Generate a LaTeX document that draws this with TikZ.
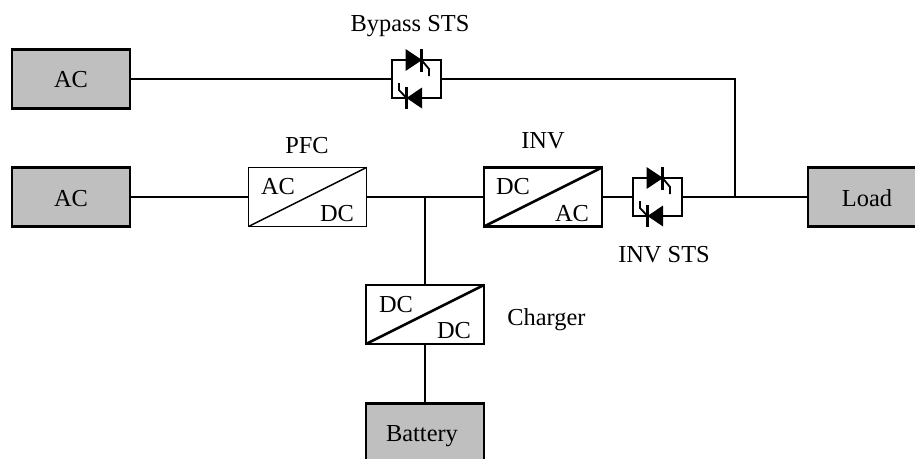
\documentclass[tikz,border=0pt]{standalone}
\usepackage{fontspec}
\setmainfont{Liberation Serif}
\begin{document}
\begin{tikzpicture}[x=1pt,y=-1pt,
  source/.style={draw=black,fill=black!25,line width=2.6pt,minimum width=118pt,minimum height=59pt,inner sep=0pt,outer sep=0pt},
  conv/.style={draw=black,fill=white,line width=2.6pt,minimum width=118pt,minimum height=59pt,inner sep=0pt,outer sep=0pt},
  thinconv/.style={conv,line width=1.5pt},
  stsbox/.style={draw=black,line width=2.4pt,minimum width=49pt,minimum height=38pt,inner sep=0pt,outer sep=0pt},
  lbl/.style={inner sep=0pt,anchor=base,font=\fontsize{24.4pt}{26pt}\selectfont},
  heavy/.style={line width=2.6pt},
  light/.style={line width=1.5pt}]
\useasboundingbox (0,0) rectangle (915,458);
\clip (0,0) rectangle (915,458);
\newcommand{\thyristors}[2]{%
  \begin{scope}[shift={(#1,#2)}]
    \fill (13.5,-11) -- (30,0) -- (13.5,11) -- cycle;
    \draw[heavy] (29.5,-11) -- (29.5,12);
    \draw[line width=1.8pt] (29.5,0) -- (37,9) -- (37,16);
    \fill (30,27.5) -- (14.5,38) -- (30,48.5) -- cycle;
    \draw[heavy] (14.5,27) -- (14.5,48.5);
    \draw[line width=1.8pt] (14.5,38) -- (7,30) -- (7,23);
  \end{scope}}
% boxes
\node[source] (ac1) at (71,79) {};
\node[source] (ac2) at (71,197) {};
\node[source] (load) at (867,197) {};
\node[source] (battery) at (425,433) {};
\node[thinconv] (pfc) at (307.5,197) {};
\node[conv] (inv) at (543,197) {};
\node[conv] (charger) at (425,314.5) {};
\node[stsbox] (bypass) at (416.5,79) {};
\node[stsbox] (invsts) at (657.5,197) {};
\coordinate (j1) at (425,197);
\coordinate (j2) at (735,197);
\coordinate (j3) at (735,79);
% connectors
\draw[heavy] (ac1.east) -- (bypass.west);
\draw[heavy] (bypass.east) -- (j3) -- (j2);
\draw[light] (ac2.east) -- (pfc.west);
\draw[light] (pfc.east) -- (j1);
\draw[heavy] (j1) -- (inv.west);
\draw[heavy] (j1) -- (charger.north);
\draw[heavy] (charger.south) -- (battery.north);
\draw[heavy] (inv.east) -- (invsts.west);
\draw[heavy] (invsts.east) -- (load.west);
% diagonals
\draw[light] (pfc.south west) -- (pfc.north east);
\draw[heavy] (inv.south west) -- (inv.north east);
\draw[heavy] (charger.south west) -- (charger.north east);
% thyristors
\thyristors{392}{60}
\thyristors{633}{178}
% labels
\node[lbl] (t1) at (71,87) {AC};
\node[lbl] (t2) at (71,206) {AC};
\node[lbl] (t3) at (867,206) {Load};
\node[lbl] (t4) at (422,441) {Battery};
\node[lbl] (t5) at (278,194) {AC};
\node[lbl] (t6) at (337,221) {DC};
\node[lbl] (t7) at (513,194) {DC};
\node[lbl] (t8) at (572,221) {AC};
\node[lbl] (t9) at (396,312) {DC};
\node[lbl] (t10) at (454,338) {DC};
\node[lbl] (t11) at (410,31) {Bypass STS};
\node[lbl] (t12) at (307,153) {PFC};
\node[lbl] (t13) at (543,148) {INV};
\node[lbl] (t14) at (664,262) {INV STS};
\node[lbl] (t15) at (546.5,325) {Charger};
\end{tikzpicture}
\end{document}
